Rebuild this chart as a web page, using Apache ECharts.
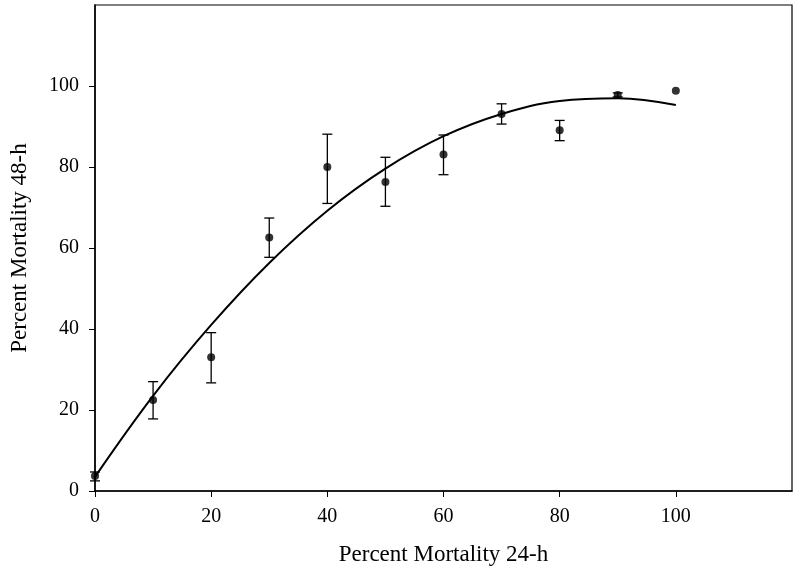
<!DOCTYPE html>
<html>
<head>
<meta charset="utf-8">
<script src="https://cdn.jsdelivr.net/npm/echarts@6/dist/echarts.min.js"></script>
<style>
html, body { margin: 0; padding: 0; background: #fff; }
#main { width: 797px; height: 571px; }
</style>
</head>
<body>
<div id="main"></div>
<script>
// observed points (24-h vs 48-h mortality) with error bar bounds
var mort24 = [0, 10, 20, 30, 40, 50, 60, 70, 80, 90, 100];
var mort48 = [3.7, 22.5, 33, 62.6, 80, 76.3, 83.1, 93.1, 89.1, 97.8, 98.8];
var errLow = [2.5, 17.8, 26.7, 57.7, 71, 70.3, 78.1, 90.6, 86.5, 97.3, 98.8];
var errHigh = [4.7, 27, 39.1, 67.4, 88.1, 82.4, 87.9, 95.6, 91.5, 98.3, 98.8];

// fitted curve
var fitX = [0, 10, 20, 30, 40, 50, 60, 70, 80, 90, 100];
var fitY = [3.5, 23.5, 41, 56.3, 69.2, 79.6, 87.6, 93.1, 96.3, 97, 95.3];

var tickValues = [0, 20, 40, 60, 80, 100];

var chart = echarts.init(document.getElementById('main'));

var font = 'Liberation Serif';

var points = mort24.map(function (x, i) { return [x, mort48[i]]; });
var bars = mort24.map(function (x, i) { return [x, errLow[i], errHigh[i]]; })
    .filter(function (d) { return d[2] - d[1] > 0.01; });
var fit = fitX.map(function (x, i) { return [x, fitY[i]]; });

var option = {
    backgroundColor: '#fff',
    animation: false,
    grid: {
        left: 94, right: 5, top: 5, bottom: 79,
        show: true, borderColor: '#000', borderWidth: 1.2
    },
    xAxis: {
        type: 'value', min: 0, max: 120, interval: 20,
        name: 'Percent Mortality 24-h',
        nameLocation: 'middle', nameGap: 52,
        nameTextStyle: { fontFamily: font, fontSize: 23, color: '#000' },
        axisLine: { show: true, onZero: false, lineStyle: { color: '#000', width: 1.5 } },
        axisTick: { show: true, length: 6, customValues: tickValues, lineStyle: { color: '#000' } },
        axisLabel: { customValues: tickValues, fontFamily: font, fontSize: 20, color: '#000', margin: 16 },
        splitLine: { show: false }
    },
    yAxis: {
        type: 'value', min: 0, max: 120, interval: 20,
        name: 'Percent Mortality 48-h',
        nameLocation: 'middle', nameGap: 64,
        nameTextStyle: { fontFamily: font, fontSize: 23, color: '#000' },
        axisLine: { show: true, onZero: false, lineStyle: { color: '#000', width: 1.5 } },
        axisTick: { show: true, length: 6, customValues: tickValues, lineStyle: { color: '#000' } },
        axisLabel: { customValues: tickValues, fontFamily: font, fontSize: 20, color: '#000', margin: 16 },
        splitLine: { show: false }
    },
    series: [
        {
            type: 'line',
            data: fit,
            smooth: 0.4,
            symbol: 'none',
            lineStyle: { color: '#000', width: 2 },
            z: 2
        },
        {
            type: 'custom',
            data: bars,
            renderItem: function (params, api) {
                var x = api.value(0);
                var lo = api.coord([x, api.value(1)]);
                var hi = api.coord([x, api.value(2)]);
                var w = 5;
                var style = { stroke: '#000', lineWidth: 1.3 };
                return {
                    type: 'group',
                    children: [
                        { type: 'line', shape: { x1: lo[0], y1: lo[1], x2: hi[0], y2: hi[1] }, style: style },
                        { type: 'line', shape: { x1: lo[0] - w, y1: lo[1], x2: lo[0] + w, y2: lo[1] }, style: style },
                        { type: 'line', shape: { x1: hi[0] - w, y1: hi[1], x2: hi[0] + w, y2: hi[1] }, style: style }
                    ]
                };
            },
            z: 3
        },
        {
            type: 'scatter',
            data: points,
            symbol: 'circle',
            symbolSize: 8,
            itemStyle: { color: '#000' },
            z: 4
        }
    ]
};

chart.setOption(option);
</script>
</body>
</html>
